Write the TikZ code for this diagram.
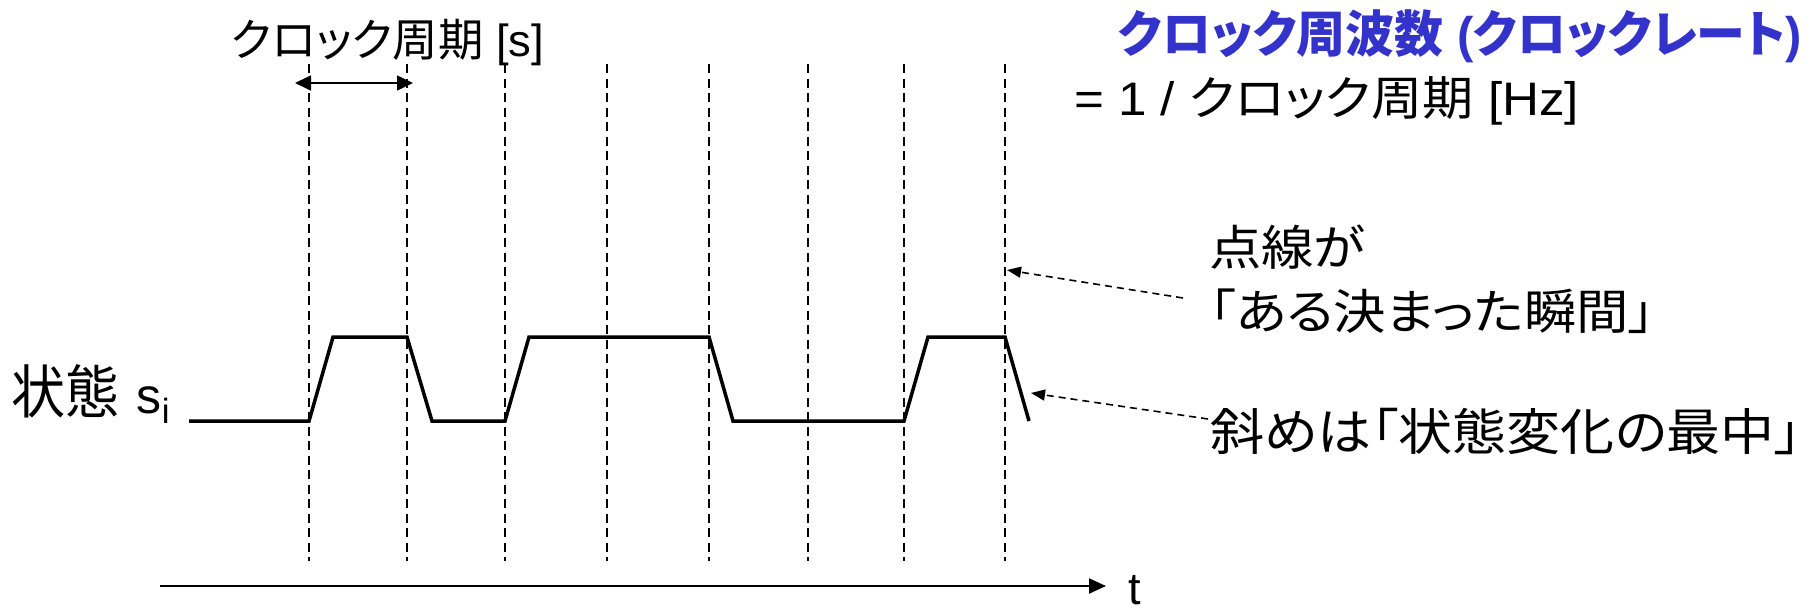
\documentclass[tikz,border=0pt]{standalone}
\usepackage{fontspec}
\usepackage{graphicx}
\usetikzlibrary{arrows.meta}
\setmainfont{Liberation Sans}
\newfontfamily\jp[RawFeature=+palt]{Noto Sans CJK JP}
\definecolor{titleblue}{RGB}{51,51,204}
\newcommand\fitw[2]{\resizebox{#1}{\height}{#2}}
\begin{document}
\begin{tikzpicture}[x=1pt,y=-1pt,
  lbl/.style={inner sep=0pt, outer sep=0pt, anchor=base west},
  sig/.style={line width=3.5pt, line join=miter},
  clk/.style={line width=1.5pt, dash pattern=on 9pt off 5.5pt},
  note/.style={line width=1.6pt, dash pattern=on 7pt off 5pt, -{Triangle[length=14pt,width=11pt]}},
  axis/.style={line width=2pt, -{Triangle[length=17pt,width=15pt]}},
  period/.style={line width=1.6pt, {Triangle[length=16pt,width=15pt]}-{Triangle[length=16pt,width=15pt]}},
]
\useasboundingbox[fill=white] (0,0) rectangle (1820,608);

% clock instants
\foreach \i/\x in {1/309,2/407,3/505,4/607,5/709,6/808,7/904,8/1005}{
  \coordinate (t\i) at (\x,64);
  \coordinate (b\i) at (\x,561);
  \draw[clk] (t\i) -- (b\i);
}

% state waveform
\draw[sig] (189,421) -- (309,421) -- (333,337) -- (407,337) -- (432,421)
  -- (505,421) -- (529,337) -- (709,337) -- (733,421) -- (904,421)
  -- (928,337) -- (1005,337) -- (1029,421);

% time axis
\coordinate (ax0) at (160,586);
\coordinate (ax1) at (1106,586);
\draw[axis] (ax0) -- (ax1);
\node[lbl, font=\fontsize{45}{45}\selectfont] (tlab) at (1128,604) {t};

% clock period arrow
\coordinate (pa) at (295,83);
\coordinate (pb) at (413,83);
\draw[period] (pa) -- (pb);
\node[lbl, font=\fontsize{45}{45}\selectfont] (plab) at (231,56)
  {\fitw{313pt}{{\jp クロック周期} [s]}};

% frequency
\node[lbl, text=titleblue, font=\bfseries\fontsize{50}{50}\selectfont] (freq) at (1118,52)
  {\fitw{684pt}{{\jp クロック周波数} ({\jp クロックレート})}};
\node[lbl, font=\fontsize{47}{47}\selectfont] (freqdef) at (1074,115)
  {\fitw{505pt}{= 1 / {\jp クロック周期} [Hz]}};

% state label
\node[lbl, font=\fontsize{50}{50}\selectfont] (state) at (12,413)
  {\fitw{108pt}{\jp\fontsize{58}{58}\selectfont 状態}\hspace{17pt}s\raisebox{-10pt}{\fontsize{35}{35}\selectfont i}};

% notes
\node[lbl, font=\fontsize{48}{48}\selectfont] (n1) at (1209,265) {\fitw{156pt}{\jp 点線が}};
\node[lbl, font=\fontsize{48}{48}\selectfont] (n2) at (1210,329) {\fitw{445pt}{\jp 「ある決まった瞬間」}};
\node[lbl, font=\fontsize{50}{50}\selectfont] (n3) at (1210,450) {\fitw{592pt}{\jp 斜めは「状態変化の最中」}};

\coordinate (ta) at (1183,298);
\coordinate (ha) at (1007,270);
\coordinate (tb) at (1208,419);
\coordinate (hb) at (1031,393);
\draw[note] (ta) -- (ha);
\draw[note] (tb) -- (hb);
\end{tikzpicture}
\end{document}
